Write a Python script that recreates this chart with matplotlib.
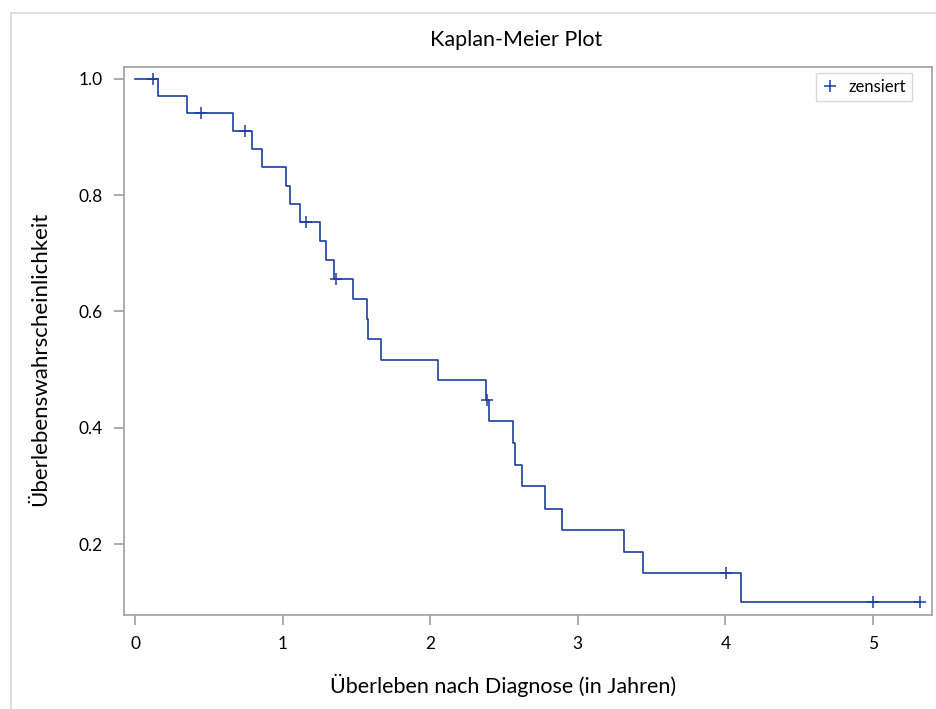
import numpy as np
import matplotlib
matplotlib.use("Agg")
import matplotlib.pyplot as plt
from matplotlib.lines import Line2D

# Kaplan-Meier step function
event_times = [0.156, 0.354, 0.666, 0.795, 0.860, 1.021, 1.050, 1.120, 1.251, 1.294,
               1.348, 1.477, 1.572, 1.576, 1.664, 2.050, 2.376, 2.398, 2.559, 2.577,
               2.624, 2.778, 2.895, 3.315, 3.440, 4.108]
survival = [0.971, 0.9415, 0.911, 0.880, 0.848, 0.8165, 0.785, 0.754, 0.721, 0.688,
            0.656, 0.621, 0.587, 0.552, 0.517, 0.482, 0.448, 0.411, 0.374, 0.336,
            0.299, 0.261, 0.224, 0.187, 0.150, 0.100]
censored_times = [0.12, 0.447, 0.747, 1.157, 1.362, 2.387, 4.004, 5.0, 5.316]

xticks = [0, 1, 2, 3, 4, 5]
yticks = [0.2, 0.4, 0.6, 0.8, 1.0]

blue = "#1c3f9d"
grey = "#a0a0a0"

plt.rcParams['font.family'] = ['Lato', 'DejaVu Sans']

fig = plt.figure(figsize=(9.37, 7.09), dpi=100)
ax = fig.add_axes([0.132, 0.1326, 0.8624, 0.7725])

# full step curve from t=0 to last censored time
t_all = np.concatenate([[0.0], event_times, [censored_times[-1]]])
s_all = np.concatenate([[1.0], survival, [survival[-1]]])
ax.step(t_all, s_all, where='post', color=blue, lw=1.2)

# censor marks sit on the curve
idx = np.searchsorted(t_all, censored_times, side='right') - 1
s_cens = s_all[idx]
ax.plot(censored_times, s_cens, ls='none', marker='+', ms=8, mew=1.1,
        color=blue, label='zensiert')

ax.set_xlim(-0.077, 5.398)
ax.set_ylim(0.078, 1.020)
ax.set_xticks(xticks)
ax.set_xticklabels([str(x) for x in xticks])
ax.set_yticks(yticks)
ax.set_yticklabels([f"{y:.1f}" for y in yticks])

for sp in ax.spines.values():
    sp.set_color(grey)
    sp.set_linewidth(1.2)
ax.tick_params(axis='both', colors=grey, labelcolor='black', length=7, width=1.2,
               labelsize=12.5, pad=8)

ax.set_xlabel('Überleben nach Diagnose (in Jahren)', fontsize=15.5)
ax.xaxis.set_label_coords(0.469, -0.107)
ax.set_ylabel('Überlebenswahrscheinlichkeit', fontsize=16)
ax.yaxis.set_label_coords(-0.091, 0.467)
fig.text(516 / 937, 1 - 40 / 709, 'Kaplan-Meier Plot', ha='center', va='center', fontsize=15.5)

leg = ax.legend(loc='upper right', frameon=True, fancybox=False, fontsize=12,
                handlelength=1.0, handletextpad=0.6, borderpad=0.35, borderaxespad=0,
                bbox_to_anchor=(0.9755, 0.989))
leg.get_frame().set_edgecolor('#d0d0d0')
leg.get_frame().set_linewidth(1.0)

# outer light frame (left and top edge visible)
fig.add_artist(Line2D([11 / 937, 11 / 937], [0, 1 - 13 / 709], transform=fig.transFigure,
                      color='#d8d8d8', lw=1.2))
fig.add_artist(Line2D([11 / 937, 1], [1 - 13 / 709, 1 - 13 / 709], transform=fig.transFigure,
                      color='#d8d8d8', lw=1.2))

fig.savefig('out.png', dpi=100)
